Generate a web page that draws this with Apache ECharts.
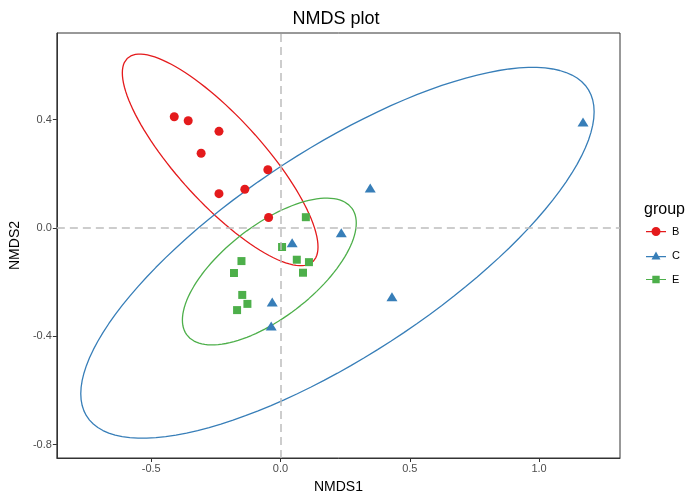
<!DOCTYPE html>
<html><head><meta charset="utf-8">
<script src="https://cdn.jsdelivr.net/npm/echarts@6/dist/echarts.min.js"></script>
<style>html,body{margin:0;padding:0;background:#fff}#c{width:700px;height:500px}</style>
</head><body><div id="c"></div>
<script>
// ---- data ----
const groups = ['B', 'C', 'E'];
const groupB = [[-0.411,0.411],[-0.357,0.396],[-0.238,0.357],[-0.307,0.276],[-0.049,0.215],[-0.238,0.127],[-0.138,0.143],[-0.046,0.039]];
const groupC = [[0.045,-0.054],[0.235,-0.017],[-0.032,-0.273],[-0.036,-0.362],[0.347,0.148],[0.431,-0.254],[1.170,0.391]];
const groupE = [[0.098,0.040],[0.006,-0.070],[-0.151,-0.122],[-0.180,-0.166],[0.063,-0.117],[0.110,-0.126],[0.087,-0.165],[-0.148,-0.247],[-0.128,-0.280],[-0.168,-0.303]];
const xTicks = [-0.5, 0.0, 0.5, 1.0];
const yTicks = [-0.8, -0.4, 0.0, 0.4];
const colors = {B:'#E41A1C', C:'#377EB8', E:'#4DAF4A'};

// ---- stat_ellipse (type "t": MASS::cov.trob, level 0.95) ----
function covTrob(pts){
  const n = pts.length, p = 2, nu = 5;
  let loc = [0,0];
  pts.forEach(q=>{loc[0]+=q[0]/n; loc[1]+=q[1]/n;});
  let w = pts.map(()=>1), X = null;
  for (let it=0; it<25; it++){
    const w0 = w.slice();
    X = pts.map(q=>[q[0]-loc[0], q[1]-loc[1]]);
    const sw = w.reduce((a,b)=>a+b,0);
    let a=0,b=0,c=0;
    X.forEach((v,i)=>{a+=w[i]*v[0]*v[0]/sw; b+=w[i]*v[0]*v[1]/sw; c+=w[i]*v[1]*v[1]/sw;});
    const det = a*c-b*b;
    const ia=c/det, ib=-b/det, ic=a/det;
    const Q = X.map(v=>v[0]*v[0]*ia+2*v[0]*v[1]*ib+v[1]*v[1]*ic);
    w = Q.map(q=>(nu+p)/(nu+q));
    const sw2 = w.reduce((s,t)=>s+t,0);
    loc = [0,0];
    pts.forEach((q,i)=>{loc[0]+=w[i]*q[0]/sw2; loc[1]+=w[i]*q[1]/sw2;});
    if (w.every((t,i)=>Math.abs(t-w0[i])<0.01)) break;
  }
  let a=0,b=0,c=0;
  X.forEach((v,i)=>{a+=w[i]*v[0]*v[0]/n; b+=w[i]*v[0]*v[1]/n; c+=w[i]*v[1]*v[1]/n;});
  return {center:loc, cov:[a,b,c]};
}
function ellipse(pts){
  const n = pts.length;
  const {center, cov} = covTrob(pts);
  const dfd = n-1;
  const fq = (dfd/2)*(Math.pow(0.05, -2/dfd)-1); // qf(0.95, 2, dfd)
  const r = Math.sqrt(2*fq);
  const r11 = Math.sqrt(cov[0]), r12 = cov[1]/r11, r22 = Math.sqrt(cov[2]-r12*r12);
  const out = [];
  const seg = 120;
  for (let i=0;i<=seg;i++){
    const t = i*2*Math.PI/seg, ct=Math.cos(t), st=Math.sin(t);
    out.push([center[0]+r*ct*r11, center[1]+r*(ct*r12+st*r22)]);
  }
  return out;
}

const data = {B:groupB, C:groupC, E:groupE};
const symbols = {B:'circle', C:'triangle', E:'rect'};
const sizes = {B:9, C:[11,9], E:8};
const icons = {
  B:'path://M0,4 H20 V5.2 H0 Z M5.5,4.5 A4.5,4.5 0 1,1 14.5,4.5 A4.5,4.5 0 1,1 5.5,4.5 Z',
  C:'path://M0,5 H20 V6.2 H0 Z M5.5,8.5 L10,0.5 L14.5,8.5 Z',
  E:'path://M0,4 H20 V5.2 H0 Z M6.3,0.9 H13.7 V8.3 H6.3 Z'
};

const series = [];
groups.forEach(g=>{
  series.push({name:g, type:'scatter', data:data[g], symbol:symbols[g], symbolSize:sizes[g],
    itemStyle:{color:colors[g], opacity:1}, z:3});
  series.push({name:g, type:'line', data:ellipse(data[g]), showSymbol:false, symbol:'none', smooth:false,
    lineStyle:{color:colors[g], width:1.3}, itemStyle:{color:colors[g]}, z:2, silent:true});
});
series.push({type:'line', data:[], silent:true, z:1,
  markLine:{silent:true, symbol:'none', label:{show:false},
    lineStyle:{color:'#bdbdbd', type:[8,5], width:1.5},
    data:[{xAxis:0},{yAxis:0}]}});

const chart = echarts.init(document.getElementById('c'), null, {renderer:'canvas'});
chart.setOption({
  animation:false,
  backgroundColor:'#fff',
  textStyle:{fontFamily:'Liberation Sans, Arial, sans-serif'},
  title:[
    {text:'NMDS plot', left:331, top:5, textAlign:'center',
      textStyle:{fontSize:18, fontWeight:'normal', color:'#000', fontFamily:'Liberation Sans, Arial, sans-serif'}},
    {text:'group', left:639, top:197,
      textStyle:{fontSize:16, fontWeight:'normal', color:'#000', fontFamily:'Liberation Sans, Arial, sans-serif'}}
  ],
  legend:{orient:'vertical', left:641, top:221, itemWidth:20, itemHeight:9, itemGap:13,
    textStyle:{fontSize:11, color:'#000', fontFamily:'Liberation Sans, Arial, sans-serif', padding:[0,0,0,1]},
    data:groups.map(g=>({name:g, icon:icons[g], itemStyle:{color:colors[g]}}))},
  grid:{left:55, right:80, top:33, bottom:42, show:true, borderColor:'#333', borderWidth:1, backgroundColor:'#fff'},
  xAxis:{type:'value', min:-0.865, max:1.313, name:'NMDS1', nameLocation:'middle', nameGap:22,
    nameTextStyle:{fontSize:14, color:'#000'},
    axisLine:{show:true, onZero:false, lineStyle:{color:'#333'}},
    axisTick:{show:true, customValues:xTicks, length:4, lineStyle:{color:'#333'}},
    axisLabel:{customValues:xTicks, formatter:v=>v.toFixed(1), color:'#4d4d4d', fontSize:11, margin:5},
    splitLine:{show:false}},
  yAxis:{type:'value', min:-0.849, max:0.72, name:'NMDS2', nameLocation:'middle', nameGap:31,
    nameTextStyle:{fontSize:14, color:'#000'},
    axisLine:{show:true, onZero:false, lineStyle:{color:'#333'}},
    axisTick:{show:true, customValues:yTicks, length:4, lineStyle:{color:'#333'}},
    axisLabel:{customValues:yTicks, formatter:v=>v.toFixed(1), color:'#4d4d4d', fontSize:11, margin:5},
    splitLine:{show:false}},
  series:series
});
</script></body></html>
